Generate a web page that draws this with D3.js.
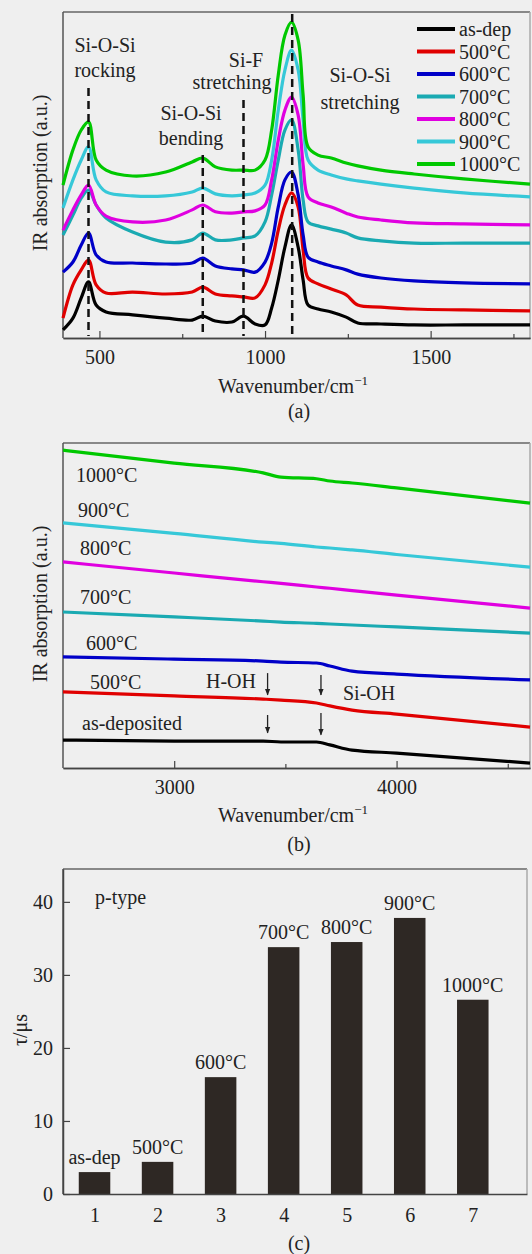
<!DOCTYPE html>
<html>
<head>
<meta charset="utf-8">
<script src="https://cdnjs.cloudflare.com/ajax/libs/d3/7.8.5/d3.min.js"></script>
<style>
body { margin: 0; background: #efefef; }
text { font-family: "Liberation Serif", "Times New Roman", serif; fill: #222; }
</style>
</head>
<body>
<script>
// ---- panel (a): 390-1800 cm-1 ----
var wnA = [390, 420, 445, 467, 490, 520, 600, 700, 780, 812, 850, 900, 935, 970, 1000,
           1020, 1040, 1060, 1080, 1100, 1115, 1130, 1160, 1200, 1245, 1280, 1350, 1450, 1600, 1800];
var absAsDep = [2.5, 6.1, 12.3, 17.2, 10.1, 8.0, 7.1, 6.1, 5.5, 6.7, 5.2, 4.9, 6.7, 4.3, 4.0,
                9.2, 17.8, 27.9, 34.7, 27.9, 17.8, 10.1, 8.9, 8.0, 6.4, 4.6, 4.3, 4.0, 4.0, 4.0];
var abs500 = [6.1, 16.3, 20.9, 23.9, 16.3, 13.8, 14.1, 13.5, 14.1, 15.6, 13.5, 12.9, 12.6, 12.3, 16.3,
              23.0, 33.1, 40.8, 44.5, 40.2, 27.0, 18.4, 16.6, 15.0, 13.2, 10.1, 9.5, 8.9, 8.6, 8.3];
var abs600 = [20.2, 23.3, 28.5, 32.2, 25.5, 23.3, 23.0, 22.7, 23.0, 24.5, 22.1, 21.2, 20.9, 20.2, 23.3,
              29.1, 40.2, 48.5, 50.9, 43.9, 31.6, 24.8, 23.3, 22.1, 20.9, 19.6, 18.4, 17.5, 16.9, 16.6];
var abs700 = [31.6, 37.7, 42.9, 45.4, 40.8, 36.8, 32.5, 29.4, 30.1, 32.2, 30.1, 30.1, 30.7, 31.3, 35.6,
              43.9, 54.6, 63.8, 66.9, 57.7, 42.3, 35.6, 34.4, 33.4, 32.2, 30.7, 29.8, 29.1, 29.1, 29.1];
var abs800 = [33.1, 39.3, 43.9, 46.9, 40.8, 37.4, 35.6, 36.2, 39.3, 40.8, 38.7, 38.3, 38.7, 39.0, 40.8,
              48.5, 60.7, 69.9, 73.9, 68.4, 53.1, 43.3, 41.4, 40.2, 38.3, 37.1, 36.2, 35.3, 35.0, 34.7];
var abs900 = [39.9, 48.5, 54.6, 58.6, 48.5, 44.8, 43.6, 43.6, 44.8, 46.0, 44.2, 43.6, 43.9, 44.5, 46.9,
              54.6, 69.9, 82.2, 88.3, 82.2, 66.9, 54.6, 51.5, 50.0, 48.8, 48.2, 47.2, 46.0, 44.5, 43.3];
var abs1000 = [46.9, 57.7, 63.8, 66.3, 54.6, 51.5, 49.7, 50.9, 54.0, 55.2, 52.5, 51.5, 51.5, 51.5, 54.6,
               63.8, 80.7, 92.9, 96.9, 91.4, 74.5, 58.6, 56.1, 55.2, 53.7, 52.8, 51.5, 50.3, 48.8, 47.2];
var legendA = ["as-dep", "500°C", "600°C", "700°C", "800°C", "900°C", "1000°C"];
var colors = ["#000000", "#e00000", "#0000c8", "#1aaab2", "#e000e0", "#36c8d8", "#00c800"];
var peaksA = [467, 812, 935, 1082];

// ---- panel (b): 2500-4600 cm-1 ----
var wnB = [2500, 3000, 3400, 3480, 3640, 3700, 3800, 4000, 4600];
var bAsDep = [8.6, 8.3, 8.3, 8.0, 8.0, 7.1, 5.5, 4.6, 1.5];
var b500 = [23.4, 22.2, 21.2, 20.9, 20.0, 19.1, 17.8, 16.6, 12.6];
var b600 = [34.2, 33.5, 32.9, 32.6, 32.3, 31.4, 29.8, 28.9, 27.1];
var b700 = [48.0, 46.5, 45.2, 44.9, 44.5, 44.3, 44.0, 43.4, 41.5];
var b800 = [63.4, 60.0, 57.3, 56.8, 55.7, 55.3, 54.6, 53.2, 49.2];
var b900 = [75.4, 72.2, 69.5, 69.1, 68.0, 67.7, 67.1, 65.7, 61.8];
var b1000 = [97.8, 93.8, 90.8, 89.5, 89.0, 88.3, 87.7, 86.2, 81.5];
var labelsB = ["as-deposited", "500°C", "600°C", "700°C", "800°C", "900°C", "1000°C"];

// ---- panel (c): lifetime bars ----
var samples = [1, 2, 3, 4, 5, 6, 7];
var tau = [3.0, 4.4, 16.0, 33.8, 34.5, 37.8, 26.6];
var barLabels = ["as-dep", "500°C", "600°C", "700°C", "800°C", "900°C", "1000°C"];

var W = 532, H = 1254;
var svg = d3.select("body").append("svg").attr("width", W).attr("height", H);

function frame(l, r, t, b) {
  svg.append("line").attr("x1", l).attr("x2", r).attr("y1", t).attr("y2", t)
    .attr("stroke", "#666").attr("stroke-width", 1.5);
  svg.append("line").attr("x1", r).attr("x2", r).attr("y1", t).attr("y2", b)
    .attr("stroke", "#aaa").attr("stroke-width", 1.5);
  svg.append("line").attr("x1", l).attr("x2", l).attr("y1", t).attr("y2", b)
    .attr("stroke", "#555").attr("stroke-width", 1.5);
}

function ylabel(txt, cx, cy) {
  svg.append("text").attr("transform", "translate(" + cx + "," + cy + ") rotate(-90)")
    .attr("text-anchor", "middle").attr("dy", "0.35em").style("font-size", "20px").text(txt);
}

function xlabel(cy, tag, tagy) {
  var t = svg.append("text").attr("x", 293).attr("y", cy).attr("text-anchor", "middle")
    .style("font-size", "20px");
  t.append("tspan").text("Wavenumber/cm");
  t.append("tspan").attr("dy", -8).style("font-size", "13px").text("−1");
  svg.append("text").attr("x", 299).attr("y", tagy).attr("text-anchor", "middle")
    .style("font-size", "20px").text(tag);
}

function styleAxis(g) {
  g.attr("font-family", null);
  g.select(".domain").attr("stroke", "#444").attr("stroke-width", 1.5);
  g.selectAll(".tick line").attr("stroke", "#444").attr("stroke-width", 1.2);
  g.selectAll(".tick text").style("font-size", "20px").attr("fill", "#222");
}

// ================= (a) =================
var xA = d3.scaleLinear().domain([390, 1800]).range([63, 530]);
var yA = d3.scaleLinear().domain([0, 100]).range([338, 12]);
frame(63, 530, 12, 338);

var seriesA = [absAsDep, abs500, abs600, abs700, abs800, abs900, abs1000];
var lineA = d3.line().x(function(d, i) { return xA(wnA[i]); }).y(function(d) { return yA(d); })
  .curve(d3.curveCatmullRom.alpha(0.5));

svg.append("g").selectAll("path").data(seriesA).enter().append("path")
  .attr("d", lineA).attr("fill", "none")
  .attr("stroke", function(d, i) { return colors[i]; })
  .attr("stroke-width", 3.2).attr("stroke-linejoin", "round");

// dashed peak markers
var dashTop = [88, 155, 100, 14];
svg.append("g").selectAll("line").data(peaksA).enter().append("line")
  .attr("x1", function(d) { return xA(d); }).attr("x2", function(d) { return xA(d); })
  .attr("y1", function(d, i) { return dashTop[i]; }).attr("y2", 336)
  .attr("stroke", "#111").attr("stroke-width", 2.5).attr("stroke-dasharray", "8,5");

var annA = [
  ["Si-O-Si", 105, 52], ["rocking", 105, 77],
  ["Si-O-Si", 191, 120], ["bending", 191, 145],
  ["Si-F", 246, 67], ["stretching", 232, 89],
  ["Si-O-Si", 360, 82], ["stretching", 360, 109]
];
svg.append("g").selectAll("text").data(annA).enter().append("text")
  .attr("x", function(d) { return d[1]; }).attr("y", function(d) { return d[2]; })
  .attr("text-anchor", "middle").style("font-size", "20px")
  .text(function(d) { return d[0]; });

var axA = svg.append("g").attr("transform", "translate(0,338)")
  .call(d3.axisBottom(xA).tickValues([500, 1000, 1500]).tickSizeInner(-7).tickSizeOuter(0)
    .tickPadding(12).tickFormat(d3.format("d")));
styleAxis(axA);
var axA2 = svg.append("g").attr("transform", "translate(0,338)")
  .call(d3.axisBottom(xA).tickValues([750, 1250, 1750]).tickSizeInner(-4).tickSizeOuter(0).tickFormat(""));
styleAxis(axA2);

// legend
var leg = svg.append("g").selectAll("g").data(legendA).enter().append("g")
  .attr("transform", function(d, i) { return "translate(417," + (29 + i * 22.5) + ")"; });
leg.append("line").attr("x1", 0).attr("x2", 38).attr("stroke", function(d, i) { return colors[i]; })
  .attr("stroke-width", 4);
leg.append("text").attr("x", 42).attr("dy", "0.35em").style("font-size", "20px").text(function(d) { return d; });

ylabel("IR absorption (a.u.)", 40, 173);
xlabel(393, "(a)", 418);

// ================= (b) =================
var xB = d3.scaleLinear().domain([2500, 4600]).range([63, 530]);
var yB = d3.scaleLinear().domain([0, 100]).range([768, 443]);
frame(63, 530, 443, 768);

var seriesB = [bAsDep, b500, b600, b700, b800, b900, b1000];
var lineB = d3.line().x(function(d, i) { return xB(wnB[i]); }).y(function(d) { return yB(d); })
  .curve(d3.curveMonotoneX);
svg.append("g").selectAll("path").data(seriesB).enter().append("path")
  .attr("d", lineB).attr("fill", "none")
  .attr("stroke", function(d, i) { return colors[i]; })
  .attr("stroke-width", 3.2);

var labPosB = [[82, 723], [90, 682], [86, 643], [80, 597], [80, 548], [78, 510], [76, 475]];
svg.append("g").selectAll("text").data(labelsB).enter().append("text")
  .attr("x", function(d, i) { return labPosB[i][0]; }).attr("y", function(d, i) { return labPosB[i][1]; })
  .attr("dy", "0.35em").style("font-size", "20px").text(function(d) { return d; });

// arrows H-OH / Si-OH
svg.append("defs").append("marker").attr("id", "arr").attr("viewBox", "0 0 10 10")
  .attr("refX", 9).attr("refY", 5).attr("markerWidth", 5).attr("markerHeight", 7).attr("orient", "auto")
  .append("path").attr("d", "M0,1 L10,5 L0,9 Z").attr("fill", "#222");
var arrows = [[3420, 29.2, 22.5], [3420, 16.3, 10.8], [3660, 28.6, 22.5], [3660, 16.9, 10.2]];
svg.append("g").selectAll("line").data(arrows).enter().append("line")
  .attr("x1", function(d) { return xB(d[0]); }).attr("x2", function(d) { return xB(d[0]); })
  .attr("y1", function(d) { return yB(d[1]); }).attr("y2", function(d) { return yB(d[2]); })
  .attr("stroke", "#222").attr("stroke-width", 1.3).attr("marker-end", "url(#arr)");
svg.append("text").attr("x", 256).attr("y", 681).attr("dy", "0.35em").attr("text-anchor", "end")
  .style("font-size", "20px").text("H-OH");
svg.append("text").attr("x", 343).attr("y", 693).attr("dy", "0.35em")
  .style("font-size", "20px").text("Si-OH");

var axB = svg.append("g").attr("transform", "translate(0,768)")
  .call(d3.axisBottom(xB).tickValues([3000, 4000]).tickSizeInner(-7).tickSizeOuter(0)
    .tickPadding(12).tickFormat(d3.format("d")));
styleAxis(axB);
var axB2 = svg.append("g").attr("transform", "translate(0,768)")
  .call(d3.axisBottom(xB).tickValues([3500, 4500]).tickSizeInner(-4).tickSizeOuter(0).tickFormat(""));
styleAxis(axB2);

ylabel("IR absorption (a.u.)", 40, 604);
xlabel(822, "(b)", 851);

// ================= (c) =================
var xC = d3.scaleLinear().domain([0.5, 7.86]).range([63, 527]);
var yC = d3.scaleLinear().domain([0, 44.5]).range([1194, 869]);
frame(63, 527, 869, 1194);

svg.append("g").selectAll("rect").data(tau).enter().append("rect")
  .attr("x", function(d, i) { return xC(samples[i] - 0.25); })
  .attr("width", xC(1.25) - xC(0.75))
  .attr("y", function(d) { return yC(d); })
  .attr("height", function(d) { return yC(0) - yC(d); })
  .attr("fill", "#2e2824");

svg.append("g").selectAll("text").data(tau).enter().append("text")
  .attr("x", function(d, i) { return xC(samples[i]); })
  .attr("y", function(d) { return yC(d) - 8; })
  .attr("text-anchor", "middle").style("font-size", "20px")
  .text(function(d, i) { return barLabels[i]; });

svg.append("text").attr("x", 95).attr("y", 897).attr("dy", "0.35em")
  .style("font-size", "20px").text("p-type");

var axCx = svg.append("g").attr("transform", "translate(0,1194)")
  .call(d3.axisBottom(xC).tickValues(samples).tickSizeInner(0).tickSizeOuter(0).tickPadding(14)
    .tickFormat(d3.format("d")));
styleAxis(axCx);
var axCy = svg.append("g").attr("transform", "translate(63,0)")
  .call(d3.axisLeft(yC).tickValues([0, 10, 20, 30, 40]).tickSizeInner(-7).tickSizeOuter(0).tickPadding(10));
styleAxis(axCy);

ylabel("τ/μs", 20, 1030);
svg.append("text").attr("x", 299).attr("y", 1250).attr("text-anchor", "middle")
  .style("font-size", "20px").text("(c)");
</script>
</body>
</html>
